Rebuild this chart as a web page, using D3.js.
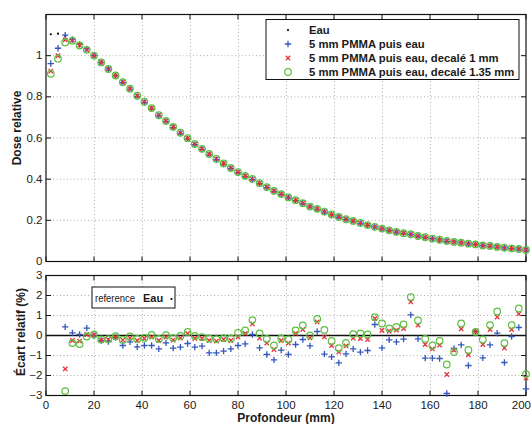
<!DOCTYPE html>
<html><head><meta charset="utf-8">
<script src="https://cdn.jsdelivr.net/npm/d3@7"></script>
<style>body{margin:0;background:#fff;} svg{display:block;font-family:"Liberation Sans",Arial,sans-serif;}</style>
</head><body><svg id="c" width="532" height="424"></svg>
<script>
// ---- data ----
const depth = [2,5,8,11,14,17,20,23,26,29,32,35,38,41,44,47,50,53,56,59,62,65,68,71,74,77,80,83,86,89,92,95,98,101,104,107,110,113,116,119,122,125,128,131,134,137,140,143,146,149,152,155,158,161,164,167,170,173,176,179,182,185,188,191,194,197,200];
const doseEau = [1.104,1.107,1.095,1.077,1.054,1.029,1.000,0.969,0.937,0.904,0.873,0.840,0.807,0.777,0.745,0.712,0.683,0.655,0.626,0.598,0.571,0.548,0.523,0.499,0.477,0.455,0.434,0.415,0.398,0.380,0.362,0.345,0.328,0.312,0.297,0.282,0.267,0.254,0.242,0.229,0.218,0.206,0.197,0.187,0.177,0.167,0.159,0.151,0.143,0.137,0.130,0.123,0.118,0.112,0.106,0.101,0.096,0.091,0.087,0.083,0.078,0.075,0.070,0.067,0.063,0.060,0.057];
// relative deviation vs Eau (%)
const devPMMA = [-12.9,-6.4,0.43,0.13,0.05,0.37,0,-0.25,-0.3,-0.1,-0.5,-0.32,-0.57,-0.5,-0.5,-0.67,-0.37,-0.63,-0.58,-0.4,-0.58,-0.53,-0.87,-0.87,-0.78,-0.67,-0.5,-0.42,0.05,-0.62,-0.95,
  -1.22,-0.73,-0.95,-0.45,-0.2,-0.52,0.2,-0.93,-1.07,-1.37,-0.92,-0.67,-0.83,-0.75,0.55,-0.62,-0.22,-0.32,-0.18,1.03,-0.17,-1.13,-1.13,-1.15,-2.9,-0.65,-0.47,-1.5,0.2,-1.12,-0.47,0.12,-1.35,-0.05,0.4,-2.67];
const devShift1 = [-16.2,-9.7,-1.67,-0.25,-0.28,0.05,0.03,-0.23,-0.2,-0.1,-0.23,-0.13,-0.25,-0.15,-0.08,-0.25,-0.08,-0.23,-0.13,0.1,-0.15,-0.15,-0.25,-0.28,-0.2,-0.25,-0.07,0.1,0.58,-0.13,-0.38,
  -0.7,-0.25,-0.38,0.1,0.3,-0.12,0.68,-0.07,-0.5,-0.82,-0.52,-0.13,-0.15,-0.2,0.85,0.25,0.22,0.27,0.35,1.68,0.52,-0.45,-0.67,-0.48,-1.95,-0.73,0.33,-0.97,0.2,-0.45,0.3,0.92,-0.63,0.3,1.08,-2.12];
const devShift135 = [-17.4,-11.0,-2.78,-0.38,-0.43,-0.05,0.05,-0.2,-0.18,-0.03,-0.22,-0.05,-0.17,-0.12,0.03,-0.17,0.02,-0.13,-0.02,0.18,-0.02,-0.08,-0.15,-0.18,-0.13,-0.15,0.13,0.25,0.77,0.1,-0.17,
  -0.5,-0.15,-0.2,0.25,0.5,0,0.83,0.28,-0.27,-0.63,-0.37,0.07,0.1,0.05,0.92,0.6,0.35,0.43,0.55,1.92,0.75,-0.17,-0.5,-0.27,-1.45,-0.83,0.6,-0.72,0.18,-0.2,0.52,1.2,-0.38,0.52,1.35,-1.93];
const seriesNames = ["Eau","5 mm PMMA puis eau","5 mm PMMA puis eau, decalé 1 mm","5 mm PMMA puis eau, decalé 1.35 mm"];
const xTicks = [0,20,40,60,80,100,120,140,160,180,200];
const yTicksTop = [0,0.2,0.4,0.6,0.8,1];
const yTicksBot = [-3,-2,-1,0,1,2,3];
const xLabel = "Profondeur (mm)";
const yLabelTop = "Dose relative";
const yLabelBot = "Écart relatif (%)";

// ---- layout ----
const svg = d3.select("#c");
const L = 46, R = 526;
const x = d3.scaleLinear().domain([0,200]).range([L,R]);
const yT = d3.scaleLinear().domain([0,1.2]).range([261.5,14.5]);
const yB = d3.scaleLinear().domain([-3,3]).range([395.5,275.5]);
const COL = {eau:"#000", pmma:"#3558bd", s1:"#e8303a", s135:"#5cc040"};

function txt(g, px, py, s, size, weight, anchor, sx, rot){
  const t = g.append("text").attr("font-size",size).attr("font-weight",weight||"normal")
    .attr("text-anchor",anchor||"start").attr("fill","#1a1a1a").text(s);
  let tr = `translate(${px},${py})`;
  if (rot) tr += ` rotate(${rot})`;
  if (sx && sx!==1) tr += ` scale(${sx},1)`;
  t.attr("transform",tr);
  return t;
}

function panel(yS, yTicks, fmt, showX){
  const g = svg.append("g");
  const [y0,y1] = yS.range();
  // grid
  g.selectAll(".gx").data(xTicks.slice(1,-1)).join("line")
    .attr("x1",d=>x(d)+0.5).attr("x2",d=>x(d)+0.5).attr("y1",y1).attr("y2",y0)
    .attr("stroke","#9a9a9a").attr("stroke-width",0.8).attr("stroke-dasharray","1,2.5");
  g.selectAll(".gy").data(yTicks.filter(v=>yS(v)>y1+1 && yS(v)<y0-1)).join("line")
    .attr("x1",L).attr("x2",R).attr("y1",d=>yS(d)).attr("y2",d=>yS(d))
    .attr("stroke","#9a9a9a").attr("stroke-width",0.8).attr("stroke-dasharray","1,2.5");
  // ticks (inward, all sides)
  const tl = 5;
  xTicks.forEach(v=>{
    g.append("line").attr("x1",x(v)).attr("x2",x(v)).attr("y1",y0).attr("y2",y0-tl).attr("stroke","#111");
    g.append("line").attr("x1",x(v)).attr("x2",x(v)).attr("y1",y1).attr("y2",y1+tl).attr("stroke","#111");
  });
  yTicks.forEach(v=>{
    g.append("line").attr("x1",L).attr("x2",L+tl).attr("y1",yS(v)).attr("y2",yS(v)).attr("stroke","#111");
    g.append("line").attr("x1",R).attr("x2",R-tl).attr("y1",yS(v)).attr("y2",yS(v)).attr("stroke","#111");
    txt(g, 42.5, yS(v)+3.6, fmt(v), 10, "normal", "end", 1.15);
  });
  if (showX) xTicks.forEach((v,i)=>{
    const last = i===xTicks.length-1;
    txt(g, last ? 531 : x(v), 409, String(v), 10, "normal", last ? "end" : "middle", 1.15);
  });
  g.append("rect").attr("x",L).attr("y",y1).attr("width",R-L).attr("height",y0-y1)
    .attr("fill","none").attr("stroke","#111").attr("stroke-width",1.2);
  return g;
}

const markers = {
  dot:(g,px,py,c)=>g.append("circle").attr("cx",px).attr("cy",py).attr("r",1.1).attr("fill",c),
  plus:(g,px,py,c)=>g.append("path").attr("d",`M${px-3.2},${py}H${px+3.2}M${px},${py-3.2}V${py+3.2}`).attr("stroke",c).attr("stroke-width",1.3).attr("fill","none"),
  cross:(g,px,py,c)=>g.append("path").attr("d",`M${px-2.2},${py-2.2}L${px+2.2},${py+2.2}M${px-2.2},${py+2.2}L${px+2.2},${py-2.2}`).attr("stroke",c).attr("stroke-width",1.3).attr("fill","none"),
  circ:(g,px,py,c)=>g.append("circle").attr("cx",px).attr("cy",py).attr("r",3.3).attr("stroke",c).attr("stroke-width",1.2).attr("fill","none")
};

const fmtTop = v => v===0?"0":(v===1?"1":d3.format(".1f")(v));
const fmtBot = v => v<0 ? "\u2212"+Math.abs(v) : String(v);

// ---- top panel ----
const gT = panel(yT, yTicksTop, fmtTop, false);
const doseOf = dev => depth.map((d,i)=>doseEau[i]*(1+dev[i]/100));
const topSeries = [
  {vals:doseEau, m:"dot", c:COL.eau},
  {vals:doseOf(devPMMA), m:"plus", c:COL.pmma},
  {vals:doseOf(devShift1), m:"cross", c:COL.s1},
  {vals:doseOf(devShift135), m:"circ", c:COL.s135}
];
const mT = gT.append("g");
topSeries.forEach(s=> depth.forEach((d,i)=> markers[s.m](mT, x(d), yT(s.vals[i]), s.c)));

// legend top
const lg = gT.append("g");
lg.append("rect").attr("x",266).attr("y",19.5).attr("width",253).attr("height",60)
  .attr("fill","#fff").attr("stroke","#111").attr("stroke-width",1);
["dot","plus","cross","circ"].forEach((m,i)=>{
  const yy = 30 + i*14;
  markers[m](lg, 288, yy, [COL.eau,COL.pmma,COL.s1,COL.s135][i]);
  txt(lg, 309, yy+3.6, seriesNames[i], 10, "bold", "start", 1.13);
});

// ---- bottom panel ----
const gB = panel(yB, yTicksBot, fmtBot, true);
gB.append("line").attr("x1",x(0)).attr("x2",x(200)).attr("y1",yB(0)).attr("y2",yB(0))
  .attr("stroke","#111").attr("stroke-width",1.5);
const mB = gB.append("g");
[{vals:devPMMA,m:"plus",c:COL.pmma},{vals:devShift1,m:"cross",c:COL.s1},{vals:devShift135,m:"circ",c:COL.s135}]
  .forEach(s=> depth.forEach((d,i)=>{ const v=s.vals[i]; if (v>=-3 && v<=3) markers[s.m](mB, x(d), yB(v), s.c); }));

const lb = gB.append("g");
lb.append("rect").attr("x",92).attr("y",287).attr("width",83).attr("height",21)
  .attr("fill","#fff").attr("stroke","#111").attr("stroke-width",1);
txt(lb, 95, 301.5, "reference", 10, "normal", "start", 0.95);
txt(lb, 143, 301.5, seriesNames[0], 10, "bold", "start", 1.1);
markers.dot(lb, 171.5, 299, COL.eau);

// ---- axis labels ----
txt(svg, 286, 422, xLabel, 12, "bold", "middle", 1);
txt(svg, 21, 128, yLabelTop, 12, "bold", "middle", 1, -90);
txt(svg, 24.5, 332, yLabelBot, 12, "bold", "middle", 1, -90);
</script></body></html>
